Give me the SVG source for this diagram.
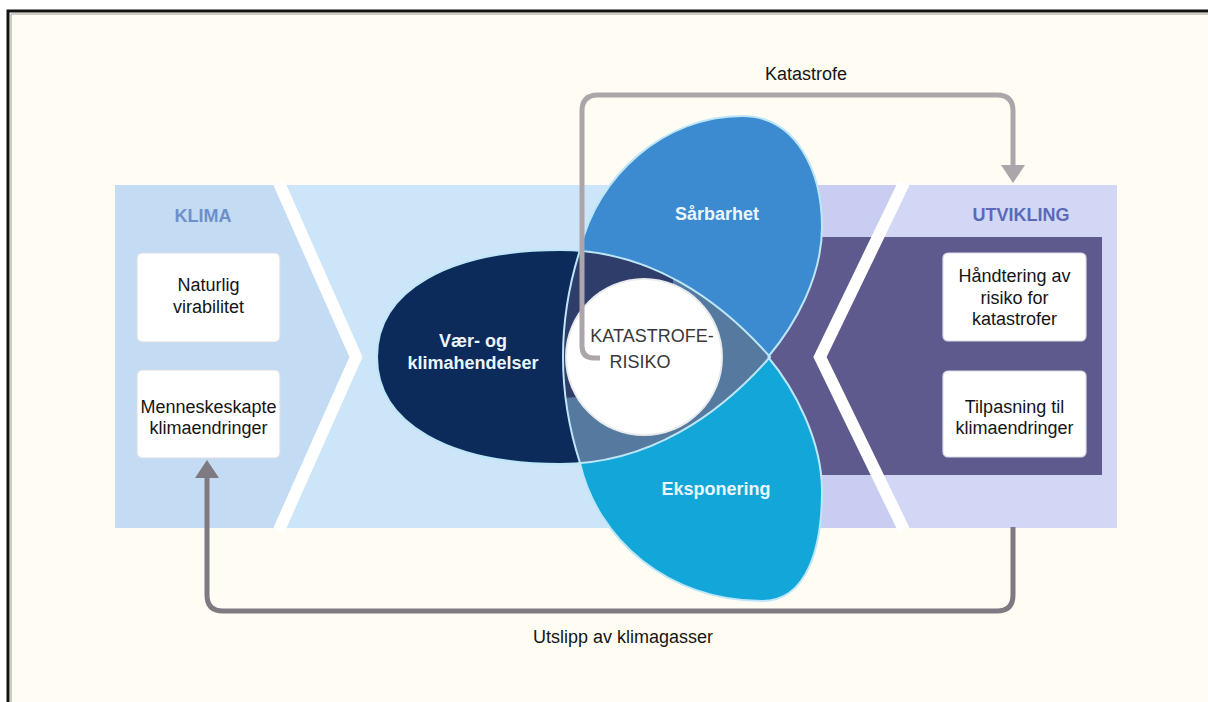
<svg xmlns="http://www.w3.org/2000/svg" width="1208" height="702" viewBox="0 0 1208 702">
<style>
.box{fill:#ffffff;stroke:#d9dee6;stroke-width:1.2}
.bt{font-family:"Liberation Sans",Arial,sans-serif;font-size:18px;fill:#151515;text-anchor:middle}
.pt{font-family:"Liberation Sans",Arial,sans-serif;font-size:18px;font-weight:bold;fill:#eaf6fc;text-anchor:middle}
.hd{font-family:"Liberation Sans",Arial,sans-serif;font-size:18px;font-weight:bold;text-anchor:middle}
.lbl{font-family:"Liberation Sans",Arial,sans-serif;font-size:18px;fill:#151515;text-anchor:middle}
.ct{font-family:"Liberation Sans",Arial,sans-serif;font-size:18px;fill:#383838;text-anchor:middle}
.edge{fill:none;stroke:#bde6f8;stroke-width:2}
.stripe{fill:none;stroke:#ffffff;stroke-width:12;stroke-linejoin:miter}
</style>
<defs>
<marker id="ahTop" viewBox="0 0 18 24" refX="0" refY="12" markerWidth="18" markerHeight="24" markerUnits="userSpaceOnUse" orient="auto">
<path d="M0,0 L18,12 L0,24 Z" fill="#aca6aa"/>
</marker>
<marker id="ahBot" viewBox="0 0 18 24" refX="0" refY="12" markerWidth="18" markerHeight="24" markerUnits="userSpaceOnUse" orient="auto">
<path d="M0,0 L18,12 L0,24 Z" fill="#7f7981"/>
</marker>
<clipPath id="navyClip">
<path d="M770,357 C720,300 650,250 560,250 C450,250 377,290 377,357 C377,424 450,464 560,464 C650,464 720,414 770,357 Z"/>
</clipPath>
<clipPath id="upperLeft">
<path d="M540,230 L673,230 L673,320 L620,330 L600,395 L540,400 Z"/>
</clipPath>
</defs>

<rect x="0" y="0" width="1208" height="702" fill="#ffffff"/>
<rect x="8" y="11" width="1200" height="691" fill="#fffdf3"/>
<path d="M8,702 L8,11 L1208,11" fill="none" stroke="#111111" stroke-width="3"/>
<path d="M11,702 L11,14 L1208,14" fill="none" stroke="#9a9a9a" stroke-width="1"/>

<g id="bands">
<rect x="115" y="185" width="1002" height="343" fill="#cde5f8"/>
<polygon points="115,185 279,185 356,357 279,528 115,528" fill="#c3dcf3"/>
<rect x="780" y="185" width="337" height="343" fill="#c9cdf1"/>
<polygon points="904,185 1117,185 1117,528 904,528 820,357" fill="#d3d7f6"/>
<rect x="760" y="237" width="342" height="238" fill="#5e5a8e"/>
<polyline class="stripe" points="279,183 356,357 279,530"/>
<polyline class="stripe" points="904,183 820,357 904,530"/>
</g>

<g id="klima">
<text class="hd" x="203" y="222" fill="#6e8fca">KLIMA</text>
</g>
<g id="naturlig">
<rect class="box" x="137" y="253" width="143" height="89" rx="5"/>
<text class="bt" x="208.5" y="291">Naturlig</text>
<text class="bt" x="208.5" y="313">virabilitet</text>
</g>
<g id="menneskeskapte">
<rect class="box" x="137" y="370" width="143" height="88" rx="5"/>
<text class="bt" x="208.5" y="413">Menneskeskapte</text>
<text class="bt" x="208.5" y="434">klimaendringer</text>
</g>

<g id="utvikling">
<text class="hd" x="1021" y="221" fill="#5c69b6">UTVIKLING</text>
</g>
<g id="handtering">
<rect class="box" x="943" y="253" width="143" height="88" rx="5"/>
<text class="bt" x="1014.5" y="282">Håndtering av</text>
<text class="bt" x="1014.5" y="303.5">risiko for</text>
<text class="bt" x="1014.5" y="325">katastrofer</text>
</g>
<g id="tilpasning">
<rect class="box" x="943" y="371" width="143" height="86" rx="5"/>
<text class="bt" x="1014.5" y="413">Tilpasning til</text>
<text class="bt" x="1014.5" y="434">klimaendringer</text>
</g>

<g id="sarbarhet">
<path d="M580,250 C597,175 665,116 742,116 C797,116 822,172 822,227 C822,277 795,325 768,357 L580,463 Q546,357 580,250 Z" fill="#3c8ad0"/>
</g>
<g id="eksponering">
<path d="M580,463 C597,539 668,601 762,601 C808,601 822,546 822,491 C822,441 795,389 768,357 L580,250 Q546,357 580,463 Z" fill="#13a6d9"/>
</g>
<g id="vaer">
<path d="M770,357 C720,300 650,250 560,250 C450,250 377,290 377,357 C377,424 450,464 560,464 C650,464 720,414 770,357 Z" fill="#0c2b5b"/>
</g>
<g id="overlap">
<g clip-path="url(#navyClip)">
<path d="M600,230 L580,250 Q546,357 580,463 L600,484 L800,484 L800,230 Z" fill="#55799f"/>
<g clip-path="url(#upperLeft)">
<path d="M600,230 L580,250 Q546,357 580,463 L600,484 L800,484 L800,230 Z" fill="#2e3d6a"/>
</g>
</g>
<path class="edge" d="M580,250 C597,175 665,116 742,116 C797,116 822,172 822,227 C822,277 795,325 768,357"/>
<path class="edge" d="M580,463 C597,539 668,601 762,601 C808,601 822,546 822,491 C822,441 795,389 768,357"/>
<path class="edge" d="M770,357 C720,300 650,250 560,250 C450,250 377,290 377,357 C377,424 450,464 560,464 C650,464 720,414 770,357 Z"/>
<path class="edge" d="M580,250 Q546,357 580,463"/>
</g>
<g id="katastroferisiko">
<circle cx="644" cy="357" r="79" fill="#e9ecef"/>
<circle cx="644" cy="357" r="77" fill="#ffffff"/>
<text class="ct" x="652" y="342">KATASTROFE-</text>
<text class="ct" x="640" y="368">RISIKO</text>
</g>
<g id="petal-labels">
<text class="pt" x="473" y="347" fill="#ffffff">Vær- og</text>
<text class="pt" x="473" y="369" fill="#ffffff">klimahendelser</text>
<text class="pt" x="717" y="220">Sårbarhet</text>
<text class="pt" x="716" y="495">Eksponering</text>
</g>

<g id="connectors">
<path d="M600,358 L594,358 Q582,358 582,346 L582,111 Q582,95 598,95 L997,95 Q1013,95 1013,111 L1013,165" fill="none" stroke="#aca6aa" stroke-width="5" marker-end="url(#ahTop)"/>
<path d="M1013,527 L1013,595 Q1013,611 997,611 L223,611 Q207,611 207,595 L207,478" fill="none" stroke="#7f7981" stroke-width="5" marker-end="url(#ahBot)"/>
<text class="lbl" x="806" y="80">Katastrofe</text>
<text class="lbl" x="623" y="643">Utslipp av klimagasser</text>
</g>
</svg>
